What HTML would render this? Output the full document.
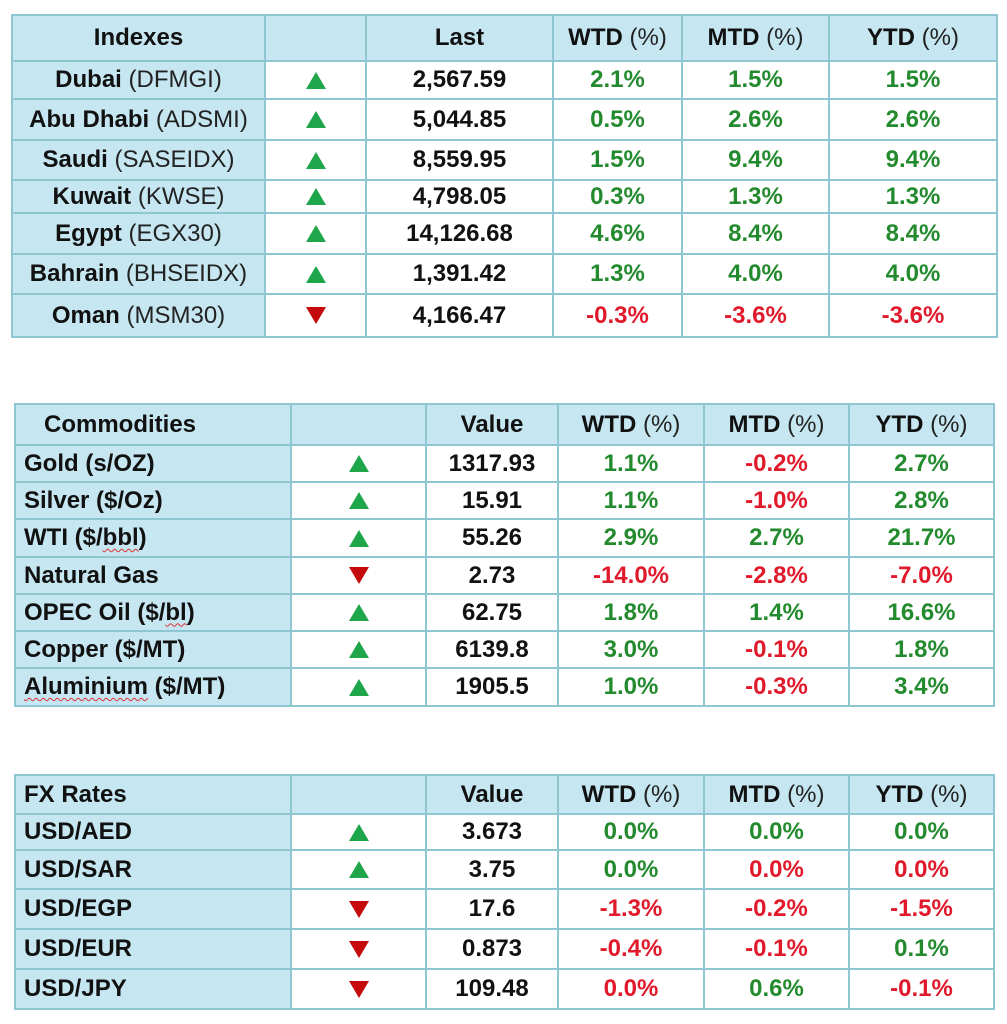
<!DOCTYPE html>
<html>
<head>
<meta charset="utf-8">
<style>
  html, body { margin:0; padding:0; background:#ffffff; }
  body { width:1007px; height:1024px; position:relative; overflow:hidden;
         font-family:"Liberation Sans", Arial, sans-serif; }
  .t { position:absolute; display:grid; border-left:2px solid #8ec6d2; border-top:2px solid #8ec6d2; box-sizing:border-box; }
  .t > div { box-sizing:border-box; border-right:2px solid #8ec6d2; border-bottom:2px solid #8ec6d2;
             display:flex; align-items:center; justify-content:center; font-size:24px; font-weight:bold; color:#111; white-space:nowrap; }
  .h { background:#c6e7f1; }
  .lb { background:#c6e7f1; }
  .w { background:#ffffff; }
  .left { justify-content:flex-start !important; padding-left:8px; }
  .reg { font-weight:normal; color:#222; }
  .g { color:#238a2e !important; }
  .r { color:#e0192b !important; }
  .up { width:0; height:0; border-left:10px solid transparent; border-right:10px solid transparent; border-bottom:17px solid #1fa64a; }
  .dn { width:0; height:0; border-left:10px solid transparent; border-right:10px solid transparent; border-top:17px solid #c40a0a; }
  .sp { text-decoration:underline wavy #e03030; text-decoration-thickness:1px; text-underline-offset:3px; }
</style>
</head>
<body>

<!-- Indexes table -->
<div class="t" style="left:11px; top:14px; grid-template-columns:253px 101px 187px 129px 147px 168px; grid-template-rows:46px 38px 41px 40px 33px 41px 40px 43px;">
  <div class="h">Indexes</div><div class="h"></div><div class="h">Last</div><div class="h">WTD&nbsp;<span class="reg">(%)</span></div><div class="h">MTD&nbsp;<span class="reg">(%)</span></div><div class="h">YTD&nbsp;<span class="reg">(%)</span></div>

  <div class="lb">Dubai&nbsp;<span class="reg">(DFMGI)</span></div><div class="w"><span class="up"></span></div><div class="w">2,567.59</div><div class="w g">2.1%</div><div class="w g">1.5%</div><div class="w g">1.5%</div>
  <div class="lb">Abu Dhabi&nbsp;<span class="reg">(ADSMI)</span></div><div class="w"><span class="up"></span></div><div class="w">5,044.85</div><div class="w g">0.5%</div><div class="w g">2.6%</div><div class="w g">2.6%</div>
  <div class="lb">Saudi&nbsp;<span class="reg">(SASEIDX)</span></div><div class="w"><span class="up"></span></div><div class="w">8,559.95</div><div class="w g">1.5%</div><div class="w g">9.4%</div><div class="w g">9.4%</div>
  <div class="lb">Kuwait&nbsp;<span class="reg">(KWSE)</span></div><div class="w"><span class="up"></span></div><div class="w">4,798.05</div><div class="w g">0.3%</div><div class="w g">1.3%</div><div class="w g">1.3%</div>
  <div class="lb">Egypt&nbsp;<span class="reg">(EGX30)</span></div><div class="w"><span class="up"></span></div><div class="w">14,126.68</div><div class="w g">4.6%</div><div class="w g">8.4%</div><div class="w g">8.4%</div>
  <div class="lb">Bahrain&nbsp;<span class="reg">(BHSEIDX)</span></div><div class="w"><span class="up"></span></div><div class="w">1,391.42</div><div class="w g">1.3%</div><div class="w g">4.0%</div><div class="w g">4.0%</div>
  <div class="lb">Oman&nbsp;<span class="reg">(MSM30)</span></div><div class="w"><span class="dn"></span></div><div class="w">4,166.47</div><div class="w r">-0.3%</div><div class="w r">-3.6%</div><div class="w r">-3.6%</div>
</div>

<!-- Commodities table -->
<div class="t" style="left:14px; top:403px; grid-template-columns:276px 135px 132px 146px 145px 145px; grid-template-rows:41px 37px 37px 38px 37px 37px 37px 38px;">
  <div class="h left" style="padding-left:28px;">Commodities</div><div class="h"></div><div class="h">Value</div><div class="h">WTD&nbsp;<span class="reg">(%)</span></div><div class="h">MTD&nbsp;<span class="reg">(%)</span></div><div class="h">YTD&nbsp;<span class="reg">(%)</span></div>

  <div class="lb left">Gold (s/OZ)</div><div class="w"><span class="up"></span></div><div class="w">1317.93</div><div class="w g">1.1%</div><div class="w r">-0.2%</div><div class="w g">2.7%</div>
  <div class="lb left">Silver ($/Oz)</div><div class="w"><span class="up"></span></div><div class="w">15.91</div><div class="w g">1.1%</div><div class="w r">-1.0%</div><div class="w g">2.8%</div>
  <div class="lb left">WTI ($/<span class="sp">bbl</span>)</div><div class="w"><span class="up"></span></div><div class="w">55.26</div><div class="w g">2.9%</div><div class="w g">2.7%</div><div class="w g">21.7%</div>
  <div class="lb left">Natural Gas</div><div class="w"><span class="dn"></span></div><div class="w">2.73</div><div class="w r">-14.0%</div><div class="w r">-2.8%</div><div class="w r">-7.0%</div>
  <div class="lb left">OPEC Oil ($/<span class="sp">bl</span>)</div><div class="w"><span class="up"></span></div><div class="w">62.75</div><div class="w g">1.8%</div><div class="w g">1.4%</div><div class="w g">16.6%</div>
  <div class="lb left">Copper ($/MT)</div><div class="w"><span class="up"></span></div><div class="w">6139.8</div><div class="w g">3.0%</div><div class="w r">-0.1%</div><div class="w g">1.8%</div>
  <div class="lb left"><span class="sp">Aluminium</span>&nbsp;($/MT)</div><div class="w"><span class="up"></span></div><div class="w">1905.5</div><div class="w g">1.0%</div><div class="w r">-0.3%</div><div class="w g">3.4%</div>
</div>

<!-- FX table -->
<div class="t" style="left:14px; top:774px; grid-template-columns:276px 135px 132px 146px 145px 145px; grid-template-rows:39px 36px 39px 40px 40px 40px;">
  <div class="h left">FX Rates</div><div class="h"></div><div class="h">Value</div><div class="h">WTD&nbsp;<span class="reg">(%)</span></div><div class="h">MTD&nbsp;<span class="reg">(%)</span></div><div class="h">YTD&nbsp;<span class="reg">(%)</span></div>

  <div class="lb left">USD/AED</div><div class="w"><span class="up"></span></div><div class="w">3.673</div><div class="w g">0.0%</div><div class="w g">0.0%</div><div class="w g">0.0%</div>
  <div class="lb left">USD/SAR</div><div class="w"><span class="up"></span></div><div class="w">3.75</div><div class="w g">0.0%</div><div class="w r">0.0%</div><div class="w r">0.0%</div>
  <div class="lb left">USD/EGP</div><div class="w"><span class="dn"></span></div><div class="w">17.6</div><div class="w r">-1.3%</div><div class="w r">-0.2%</div><div class="w r">-1.5%</div>
  <div class="lb left">USD/EUR</div><div class="w"><span class="dn"></span></div><div class="w">0.873</div><div class="w r">-0.4%</div><div class="w r">-0.1%</div><div class="w g">0.1%</div>
  <div class="lb left">USD/JPY</div><div class="w"><span class="dn"></span></div><div class="w">109.48</div><div class="w r">0.0%</div><div class="w g">0.6%</div><div class="w r">-0.1%</div>
</div>

</body>
</html>
